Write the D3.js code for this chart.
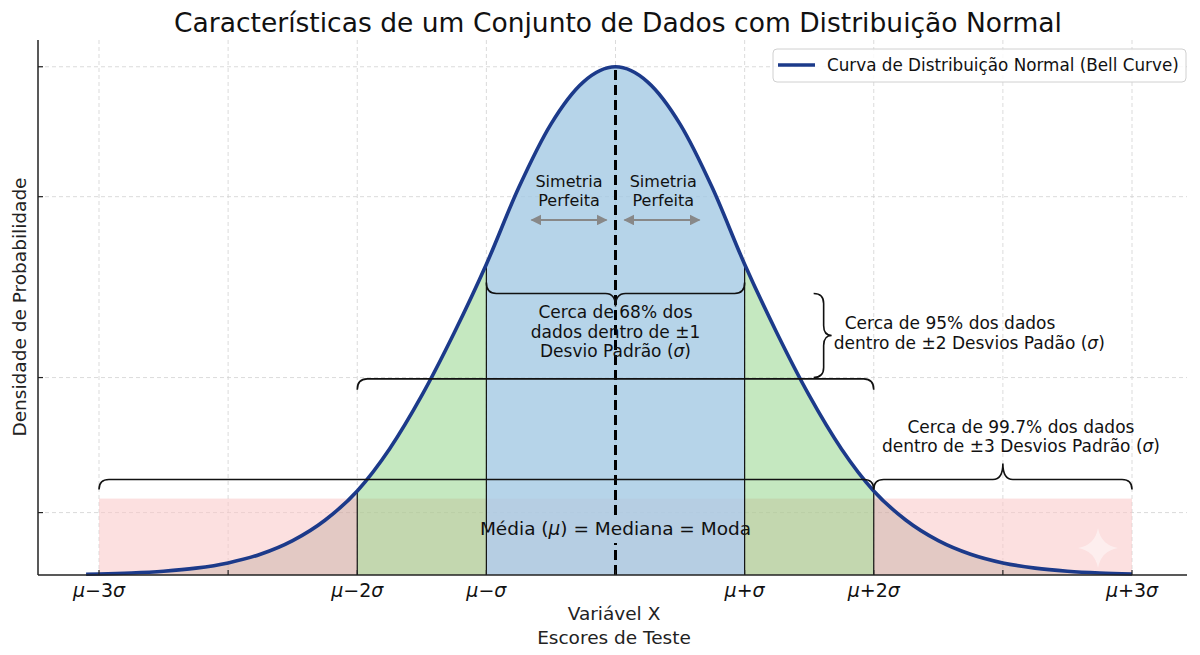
<!DOCTYPE html>
<html>
<head>
<meta charset="utf-8">
<title>Distribuição Normal</title>
<script src="https://cdnjs.cloudflare.com/ajax/libs/d3/7.8.5/d3.min.js"></script>
<style>
  body { margin: 0; background: #fff; }
  svg { display: block; font-family: "DejaVu Sans", sans-serif; }
  .grid line { stroke: #d2d2d2; stroke-width: 0.8; stroke-dasharray: 4,3; }
  .brace { fill: none; stroke: #111; stroke-width: 1.6; }
  .note { font-size: 17px; fill: #111; }
</style>
</head>
<body>
<svg id="chart"></svg>
<script>
const width = 1200, height = 655;

// bell curve (x in sigma units, y = density)
const curveX = [-4.1, -4, -3.75, -3.5, -3.25, -3, -2.75, -2.5, -2.25, -2, -1.75, -1.5, -1.25, -1, -0.75, -0.5, -0.25,
                0, 0.25, 0.5, 0.75, 1, 1.25, 1.5, 1.75, 2, 2.25, 2.5, 2.75, 3, 3.25, 3.5, 3.75, 4];
const curveY = [0.0006, 0.0008, 0.0016, 0.003, 0.0054, 0.0095, 0.0163, 0.027, 0.043, 0.066, 0.099, 0.141, 0.190, 0.244, 0.304, 0.354, 0.387,
                0.399, 0.387, 0.354, 0.304, 0.244, 0.190, 0.141, 0.099, 0.066, 0.043, 0.027, 0.0163, 0.0095, 0.0054, 0.003, 0.0016, 0.0008];

const gridX = [-4, -3, -2, -1, 0, 1, 2, 3, 4];
const labelX = [-4, -2, -1, 1, 2, 4];
const labelText = ["μ−3σ", "μ−2σ", "μ−σ", "μ+σ", "μ+2σ", "μ+3σ"];
const gridY = [0.049, 0.155, 0.297, 0.399];

const band68 = [[-1, 1]];
const band95 = [[-2, -1], [1, 2]];
const tails = [[-4, -2], [2, 4]];
const pinkSpan = [-4, 4];
const pinkTop = 0.06;
const edges = [-2, -1, 1, 2];
const mean = 0;

const svg = d3.select("#chart").attr("width", width).attr("height", height);

const x = d3.scaleLinear().domain([-4, 4]).range([99, 1132]);
const y = d3.scaleLinear().domain([0, 0.42]).range([575, 40]);
const axLeft = 38, axRight = 1187, axBottom = 575, axTop = 40;

const pts = curveX.map((v, i) => ({x: v, y: curveY[i]}));
const yAt = v => pts.find(p => p.x === v).y;

// grid
const grid = svg.append("g").attr("class", "grid");
grid.selectAll(".gx").data(gridX).join("line")
    .attr("x1", d => x(d)).attr("x2", d => x(d))
    .attr("y1", axTop).attr("y2", axBottom);
grid.selectAll(".gy").data(gridY).join("line")
    .attr("x1", axLeft).attr("x2", axRight)
    .attr("y1", d => y(d)).attr("y2", d => y(d));

// pink 99.7% band
svg.append("rect")
    .attr("x", x(pinkSpan[0])).attr("width", x(pinkSpan[1]) - x(pinkSpan[0]))
    .attr("y", y(pinkTop)).attr("height", y(0) - y(pinkTop))
    .attr("fill", "rgba(250,198,198,0.55)");

const area = d3.area().x(d => x(d.x)).y0(y(0)).y1(d => y(d.y)).curve(d3.curveMonotoneX);
const inside = ([a, b]) => pts.filter(p => p.x >= a && p.x <= b);

svg.selectAll(".tail").data(tails).join("path")
    .attr("d", d => area(inside(d)))
    .attr("fill", "rgba(150,130,112,0.25)");
svg.selectAll(".b95").data(band95).join("path")
    .attr("d", d => area(inside(d)))
    .attr("fill", "rgba(127,204,115,0.45)");
svg.selectAll(".b68").data(band68).join("path")
    .attr("d", d => area(inside(d)))
    .attr("fill", "rgba(164,201,228,0.8)");

// vertical edges of the sigma bands
svg.selectAll(".edge").data(edges).join("line")
    .attr("x1", d => x(d)).attr("x2", d => x(d))
    .attr("y1", y(0)).attr("y2", d => y(yAt(d)))
    .attr("stroke", "#111").attr("stroke-width", 1.2);

// mean line
svg.append("line")
    .attr("x1", x(mean)).attr("x2", x(mean))
    .attr("y1", y(0)).attr("y2", y(yAt(mean)))
    .attr("stroke", "#000").attr("stroke-width", 3).attr("stroke-dasharray", "10,5");

// curve
const line = d3.line().x(d => x(d.x)).y(d => y(d.y)).curve(d3.curveMonotoneX);
svg.append("path").attr("d", line(pts))
    .attr("fill", "none").attr("stroke", "#1c3a8a").attr("stroke-width", 3.6);

// axes
svg.append("line").attr("x1", axLeft).attr("x2", axLeft).attr("y1", axTop).attr("y2", axBottom)
    .attr("stroke", "#222").attr("stroke-width", 1.5);
svg.append("line").attr("x1", axLeft).attr("x2", axRight).attr("y1", axBottom).attr("y2", axBottom)
    .attr("stroke", "#222").attr("stroke-width", 1.5);
svg.selectAll(".tx").data(gridX).join("line")
    .attr("x1", d => x(d)).attr("x2", d => x(d)).attr("y1", axBottom).attr("y2", axBottom - 5)
    .attr("stroke", "#222").attr("stroke-width", 1.2);
svg.selectAll(".ty").data(gridY).join("line")
    .attr("x1", axLeft).attr("x2", axLeft + 5).attr("y1", d => y(d)).attr("y2", d => y(d))
    .attr("stroke", "#222").attr("stroke-width", 1.2);

// math-like labels: greek letters in italics
function mathText(sel, str) {
  str.split(/([μσ])/).filter(s => s).forEach(s => {
    sel.append("tspan").text(s).attr("font-style", /[μσ]/.test(s) ? "italic" : null);
  });
}

svg.selectAll(".xl").data(labelX).join("text")
    .attr("x", d => x(d)).attr("y", 597)
    .attr("text-anchor", "middle").attr("font-size", 19).attr("fill", "#111")
    .each(function(d, i) { mathText(d3.select(this), labelText[i]); });

svg.append("text").attr("x", 614).attr("y", 620).attr("text-anchor", "middle")
    .attr("font-size", 18.5).attr("fill", "#222").text("Variável X");
svg.append("text").attr("x", 614).attr("y", 644).attr("text-anchor", "middle")
    .attr("font-size", 18.5).attr("fill", "#222").text("Escores de Teste");
svg.append("text").attr("transform", "translate(26,307) rotate(-90)").attr("text-anchor", "middle")
    .attr("font-size", 18.5).attr("fill", "#222").text("Densidade de Probabilidade");

svg.append("text").attr("x", 618).attr("y", 32).attr("text-anchor", "middle")
    .attr("font-size", 27).attr("fill", "#111").attr("textLength", 888).attr("lengthAdjust", "spacingAndGlyphs")
    .text("Características de um Conjunto de Dados com Distribuição Normal");

// braces
function hBrace(x1, x2, y0, end, tip) {
  const r = 10, xm = (x1 + x2) / 2;
  let p = `M${x1},${y0 + end} Q${x1},${y0} ${x1 + r},${y0}`;
  if (tip) p += ` L${xm - r},${y0} Q${xm},${y0} ${xm},${y0 + tip} Q${xm},${y0} ${xm + r},${y0}`;
  return p + ` L${x2 - r},${y0} Q${x2},${y0} ${x2},${y0 + end}`;
}
function vBrace(x0, y1, y2, end, tip, ym) {
  const r = 10;
  return `M${x0 + end},${y1} Q${x0},${y1} ${x0},${y1 + r} L${x0},${ym - r} Q${x0},${ym} ${x0 + tip},${ym}` +
         ` Q${x0},${ym} ${x0},${ym + r} L${x0},${y2 - r} Q${x0},${y2} ${x0 + end},${y2}`;
}
svg.append("path").attr("class", "brace").attr("d", hBrace(x(-1), x(1), y(0.221), -11, 13));
svg.append("path").attr("class", "brace").attr("d", hBrace(x(-2), x(2), y(0.154), 11, 0));
svg.append("path").attr("class", "brace").attr("d", vBrace(x(1.612), y(0.221), y(0.155), -10, 8, y(0.188)));
svg.append("path").attr("class", "brace").attr("d", hBrace(x(-4), x(2), y(0.075), 10, 0));
svg.append("path").attr("class", "brace").attr("d", hBrace(x(2), x(4), y(0.075), 10, -16));

// symmetry arrows
const defs = svg.append("defs");
defs.append("marker").attr("id", "ah").attr("viewBox", "0 0 10 10").attr("refX", 9).attr("refY", 5)
    .attr("markerWidth", 5.5).attr("markerHeight", 5.5).attr("orient", "auto-start-reverse")
    .append("path").attr("d", "M0,0 L10,5 L0,10 Z").attr("fill", "#888");
const arrows = [[-0.65, -0.07], [0.07, 0.65]];
svg.selectAll(".arr").data(arrows).join("line")
    .attr("x1", d => x(d[0])).attr("x2", d => x(d[1]))
    .attr("y1", y(0.2787)).attr("y2", y(0.2787))
    .attr("stroke", "#888").attr("stroke-width", 2)
    .attr("marker-start", "url(#ah)").attr("marker-end", "url(#ah)");

function note(lines, xs, ys, anchor, size) {
  lines.forEach((t, i) => {
    const el = svg.append("text").attr("class", "note")
        .attr("x", xs[i]).attr("y", ys[i]).attr("dy", "0.35em")
        .attr("text-anchor", anchor);
    if (size) el.style("font-size", size + "px");
    mathText(el, t);
  });
}
note(["Simetria", "Perfeita"], [x(-0.36), x(-0.36)], [y(0.309), y(0.294)], "middle", 16);
note(["Simetria", "Perfeita"], [x(0.37), x(0.37)], [y(0.309), y(0.294)], "middle", 16);
note(["Cerca de 68% dos", "dados dentro de ±1", "Desvio Padrão (σ)"],
     [x(0), x(0), x(0)], [y(0.2065), y(0.1908), y(0.1759)], "middle");
note(["Cerca de 95% dos dados", "dentro de ±2 Desvios Padão (σ)"],
     [x(1.775), x(1.69)], [y(0.1978), y(0.1821)], "start");
note(["Cerca de 99.7% dos dados", "dentro de ±3 Desvios Padrão (σ)"],
     [x(3.14), x(3.14)], [y(0.1162), y(0.1013)], "middle");

// mean label with box hiding the dashed line
svg.append("rect").attr("x", x(-1) + 1).attr("width", x(1) - x(-1) - 2)
    .attr("y", y(0.0361) - 14).attr("height", 28).attr("fill", "#b6cee3");
note(["Média (μ) = Mediana = Moda"], [x(0)], [y(0.0361)], "middle", 18.5);

// legend
const lg = svg.append("g").attr("transform", "translate(773,49)");
lg.append("rect").attr("width", 413).attr("height", 33).attr("rx", 4)
    .attr("fill", "rgba(255,255,255,0.85)").attr("stroke", "#d0d0d0");
lg.append("line").attr("x1", 5).attr("x2", 42).attr("y1", 16).attr("y2", 16)
    .attr("stroke", "#1c3a8a").attr("stroke-width", 3.6);
lg.append("text").attr("x", 54).attr("y", 16).attr("dy", "0.35em")
    .attr("font-size", 16.8).attr("fill", "#111").text("Curva de Distribuição Normal (Bell Curve)");

// faint sparkle mark
svg.append("path")
    .attr("d", "M0,-20 Q3,-3 20,0 Q3,3 0,20 Q-3,3 -20,0 Q-3,-3 0,-20 Z")
    .attr("transform", "translate(1098,548)")
    .attr("fill", "#fff").attr("opacity", 0.45);
</script>
</body>
</html>
